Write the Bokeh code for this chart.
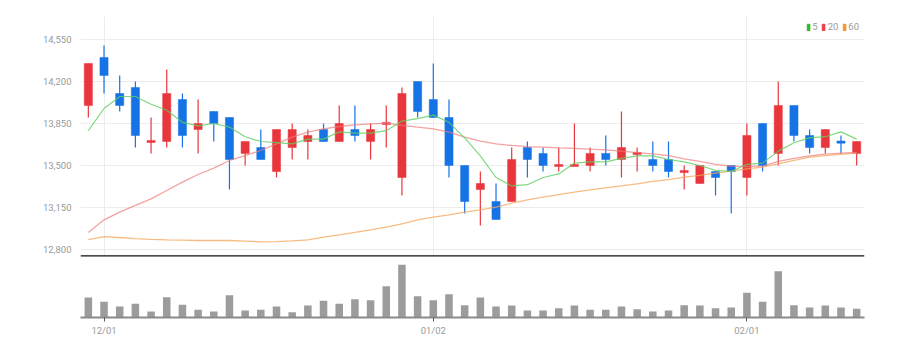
from bokeh.plotting import figure
from bokeh.layouts import column
from bokeh.models import (ColumnDataSource, FixedTicker, NumeralTickFormatter,
                          Legend, LegendItem, Range1d, Span)
from bokeh.embed import file_html
from bokeh.resources import INLINE

# ---------------- data ----------------
dates = ["11/30", "12/01", "12/02", "12/05", "12/06", "12/07", "12/08", "12/09",
         "12/12", "12/13", "12/14", "12/15", "12/16", "12/19", "12/20", "12/21",
         "12/22", "12/23", "12/26", "12/27", "12/28", "12/29", "01/02", "01/03",
         "01/04", "01/05", "01/06", "01/09", "01/10", "01/11", "01/12", "01/13",
         "01/16", "01/17", "01/18", "01/19", "01/20", "01/25", "01/26", "01/27",
         "01/30", "01/31", "02/01", "02/02", "02/03", "02/06", "02/07", "02/08",
         "02/09", "02/10"]

opens = [14000, 14400, 14100, 14150, 13700, 13700, 14050, 13800, 13950, 13900,
         13600, 13650, 13450, 13650, 13700, 13800, 13700, 13800, 13700, 13850,
         13400, 14200, 14050, 13900, 13500, 13300, 13200, 13200, 13650, 13600,
         13500, 13500, 13500, 13600, 13550, 13600, 13550, 13550, 13450, 13350,
         13450, 13500, 13400, 13850, 13600, 14000, 13750, 13650, 13700, 13600]
highs = [14350, 14500, 14250, 14200, 13900, 14300, 14100, 14050, 13950, 13900,
         13700, 13800, 13800, 13850, 13800, 13850, 14000, 14000, 13850, 14000,
         14150, 14200, 14350, 14050, 13500, 13450, 13350, 13650, 13700, 13650,
         13650, 13850, 13650, 13750, 13950, 13650, 13700, 13700, 13500, 13500,
         13450, 13500, 13850, 13850, 14200, 14000, 13800, 13800, 13750, 13700]
lows = [13900, 14100, 13950, 13650, 13600, 13650, 13650, 13600, 13700, 13300,
        13500, 13550, 13400, 13550, 13550, 13700, 13700, 13700, 13550, 13650,
        13250, 13900, 13900, 13400, 13100, 13000, 13050, 13200, 13400, 13450,
        13450, 13500, 13450, 13500, 13400, 13450, 13450, 13400, 13300, 13350,
        13250, 13100, 13250, 13450, 13500, 13700, 13600, 13600, 13600, 13500]
closes = [14350, 14250, 14000, 13750, 13700, 14100, 13750, 13850, 13850, 13550,
          13700, 13550, 13800, 13800, 13750, 13700, 13850, 13750, 13800, 13850,
          14100, 13950, 13900, 13500, 13200, 13350, 13050, 13550, 13550, 13500,
          13500, 13500, 13600, 13550, 13650, 13600, 13500, 13450, 13450, 13500,
          13400, 13450, 13750, 13500, 14000, 13750, 13650, 13800, 13690, 13700]

ma5 = [13790, 13975, 14075, 14075, 14010, 13960, 13860, 13830, 13850, 13820,
       13740, 13700, 13690, 13680, 13720, 13720, 13780, 13770, 13770, 13790,
       13870, 13890, 13920, 13860, 13730, 13580, 13400, 13330, 13340, 13400,
       13430, 13520, 13530, 13530, 13560, 13580, 13580, 13550, 13530, 13500,
       13460, 13450, 13510, 13520, 13620, 13690, 13730, 13740, 13780, 13720]
ma20 = [12942, 13047, 13111, 13167, 13222, 13292, 13361, 13425, 13478, 13542,
        13583, 13625, 13681, 13736, 13778, 13806, 13825, 13839, 13847, 13853,
        13835, 13820, 13806, 13778, 13736, 13703, 13681, 13667, 13658, 13653,
        13647, 13642, 13636, 13631, 13619, 13608, 13597, 13583, 13556, 13535,
        13510, 13495, 13490, 13495, 13535, 13560, 13580, 13595, 13603, 13610]
ma60 = [12883, 12908, 12900, 12890, 12885, 12881, 12878, 12875, 12875, 12875,
        12870, 12864, 12866, 12872, 12880, 12903, 12922, 12942, 12964, 12986,
        13014, 13047, 13069, 13089, 13111, 13131, 13153, 13186, 13214, 13236,
        13258, 13278, 13297, 13314, 13330, 13347, 13367, 13383, 13403, 13417,
        13436, 13453, 13472, 13486, 13514, 13542, 13569, 13583, 13592, 13603]

volumes = [120000, 94000, 66000, 82000, 36000, 122000, 76000, 46000, 36000, 134000,
           42000, 46000, 66000, 32000, 72000, 100000, 82000, 110000, 104000, 188000,
           316000, 128000, 104000, 140000, 74000, 120000, 66000, 72000, 42000, 42000,
           56000, 72000, 46000, 46000, 66000, 50000, 36000, 42000, 74000, 72000,
           56000, 60000, 148000, 94000, 278000, 74000, 60000, 72000, 60000, 52000]

price_ticks = [12800, 13150, 13500, 13850, 14200, 14550]
ma_labels = ["5", "20", "60"]

# ---------------- styles ----------------
UP = "#e8363c"
DOWN = "#1673e6"
FONT = "Roboto"
LABEL_COLOR = "#9a9a9a"
Y_START, Y_END = 12741.7, 14741.7

n = len(dates)
xs = list(range(n))
colors = [UP if c >= o else DOWN for o, c in zip(opens, closes)]
body_top, body_bot = [], []
for o, c in zip(opens, closes):
    hi, lo = max(o, c), min(o, c)
    if hi - lo < 15:
        mid = (hi + lo) / 2
        hi, lo = mid + 9, mid - 9
    body_top.append(hi)
    body_bot.append(lo)

src = ColumnDataSource(dict(x=xs, open=opens, high=highs, low=lows, close=closes,
                            top=body_top, bot=body_bot, color=colors,
                            ma5=ma5, ma20=ma20, ma60=ma60, vol=volumes))

tick_idx = [i for i in range(1, n) if dates[i][:2] != dates[i - 1][:2]]
overrides = {i: dates[i] for i in tick_idx}

x_range = Range1d(-0.5, n - 0.5)

# ---------------- price panel ----------------
p = figure(width=910, height=258, x_range=x_range,
           y_range=Range1d(Y_START, Y_END),
           toolbar_location=None, output_backend="svg",
           min_border_left=80, min_border_right=46, min_border_top=16,
           min_border_bottom=2)
p.outline_line_color = None
p.background_fill_color = "white"
p.xaxis.visible = False

p.segment(x0="x", y0="high", x1="x", y1="low", color="color", line_width=1.2, source=src)
p.vbar(x="x", top="top", bottom="bot", width=0.52, fill_color="color",
       line_color="color", line_width=0.5, source=src)

p.line("x", "ma60", source=src, color="#f5a55a", line_width=1.3, line_alpha=0.75)
p.line("x", "ma20", source=src, color="#f07a7a", line_width=1.3, line_alpha=0.7)
p.line("x", "ma5", source=src, color="#5fcf5f", line_width=1.2, line_alpha=0.8)

# legend swatches (dummy renderers with no visible data)
leg_colors = ["#2dbb2d", "#ef3e46", "#f3962f"]
items = []
for lab, col in zip(ma_labels, leg_colors):
    r = p.vbar(x=[float("nan")], top=[float("nan")], bottom=[float("nan")],
               width=0.5, fill_color=col, line_color=col)
    items.append(LegendItem(label=lab, renderers=[r]))
legend = Legend(items=items, orientation="horizontal", location="top_right",
                background_fill_alpha=0, border_line_color=None,
                label_text_font=FONT, label_text_font_size="9.5px",
                label_text_color=LABEL_COLOR, glyph_width=4, glyph_height=8,
                label_height=10, label_width=1, label_standoff=2, spacing=4,
                padding=0, margin=3)
legend.margin = 5
p.add_layout(legend)

p.add_layout(Span(location=Y_START, dimension="width", line_color="#111111",
                  line_width=2.5))

p.yaxis.ticker = FixedTicker(ticks=price_ticks)
p.yaxis.formatter = NumeralTickFormatter(format="0,0")
p.yaxis.axis_line_color = None
p.yaxis.major_tick_line_color = None
p.yaxis.minor_tick_line_color = None
p.yaxis.major_label_text_font = FONT
p.yaxis.major_label_text_font_size = "9.5px"
p.yaxis.major_label_text_color = LABEL_COLOR
p.yaxis.major_label_standoff = 3

p.ygrid.grid_line_color = "#ececec"
p.xgrid.ticker = FixedTicker(ticks=tick_idx)
p.xgrid.grid_line_color = "#ececec"

# ---------------- volume panel ----------------
v = figure(width=910, height=80, x_range=x_range, y_range=Range1d(0, 354000),
           toolbar_location=None, output_backend="svg",
           min_border_left=80, min_border_right=46, min_border_top=0,
           min_border_bottom=4)
v.outline_line_color = None
v.vbar(x="x", top="vol", bottom=0, width=0.48, fill_color="#9c9c9c",
       line_color=None, source=src)
v.yaxis.visible = False
v.ygrid.grid_line_color = None
v.xgrid.grid_line_color = None
v.xaxis.ticker = FixedTicker(ticks=tick_idx)
v.xaxis.major_label_overrides = overrides
v.xaxis.axis_line_color = "#8a8a8a"
v.xaxis.axis_line_width = 2
v.xaxis.major_tick_line_color = "#555555"
v.xaxis.major_tick_out = 4
v.xaxis.major_tick_in = 0
v.xaxis.minor_tick_line_color = None
v.xaxis.major_label_standoff = 3
v.xaxis.major_label_text_font = FONT
v.xaxis.major_label_text_font_size = "9.5px"
v.xaxis.major_label_text_color = LABEL_COLOR

layout = column(p, v, spacing=0)
open("out.html", "w").write(file_html(layout, INLINE))
